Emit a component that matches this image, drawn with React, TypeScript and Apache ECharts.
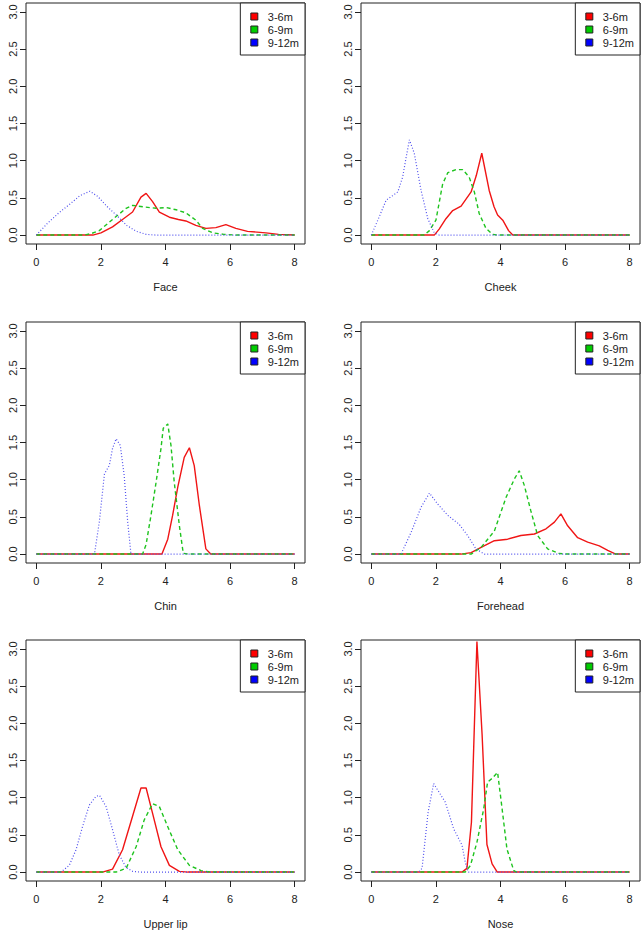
import React, { useEffect, useRef } from "react";
import * as echarts from "echarts";

const PANEL_NAMES = ["Face", "Cheek", "Chin", "Forehead", "Upper lip", "Nose"];
const GROUPS = ["3-6m", "6-9m", "9-12m"];
const X_TICKS = [0, 2, 4, 6, 8];
const Y_TICKS = [0, 0.5, 1, 1.5, 2, 2.5, 3];

// [x, density] pairs
const faceRed = [[0,0],[1.75,0],[2.0,0.03],[2.36,0.11],[2.7,0.22],[2.98,0.31],[3.24,0.51],[3.4,0.56],[3.6,0.45],[3.81,0.31],[4.12,0.24],[4.4,0.21],[4.63,0.19],[4.94,0.13],[5.25,0.09],[5.56,0.1],[5.87,0.14],[6.18,0.09],[6.54,0.05],[7.11,0.03],[7.5,0.01],[8,0]];
const faceGreen = [[0,0],[1.49,0],[1.7,0.02],[1.95,0.06],[2.36,0.21],[2.78,0.36],[2.98,0.4],[3.3,0.38],[3.71,0.36],[4.02,0.37],[4.33,0.34],[4.63,0.3],[4.94,0.2],[5.15,0.09],[5.46,0.03],[5.8,0.01],[6.2,0],[8,0]];
const faceBlue = [[0,0],[0.35,0.16],[0.7,0.3],[1.05,0.42],[1.35,0.53],[1.66,0.59],[1.9,0.52],[2.2,0.38],[2.5,0.26],[2.8,0.13],[3.1,0.05],[3.4,0.01],[3.7,0],[8,0]];

const cheekRed = [[0,0],[1.95,0],[2.1,0.08],[2.31,0.22],[2.52,0.33],[2.78,0.39],[3.09,0.58],[3.25,0.8],[3.42,1.1],[3.65,0.6],[3.8,0.38],[3.91,0.27],[4.07,0.2],[4.25,0.06],[4.38,0],[8,0]];
const cheekGreen = [[0,0],[1.64,0],[1.8,0.06],[2.0,0.2],[2.21,0.69],[2.37,0.84],[2.62,0.88],[2.83,0.88],[3.03,0.78],[3.19,0.58],[3.34,0.29],[3.55,0.09],[3.75,0.01],[3.9,0],[8,0]];
const cheekBlue = [[0,0],[0.2,0.2],[0.46,0.47],[0.66,0.53],[0.82,0.58],[0.97,0.78],[1.08,1.05],[1.18,1.28],[1.33,1.1],[1.54,0.6],[1.75,0.22],[1.95,0.03],[2.1,0],[8,0]];

const chinRed = [[0,0],[3.89,0],[4.07,0.2],[4.22,0.52],[4.38,0.9],[4.58,1.3],[4.74,1.43],[4.89,1.19],[5.05,0.65],[5.25,0.07],[5.4,0],[8,0]];
const chinGreen = [[0,0],[3.29,0],[3.4,0.13],[3.55,0.52],[3.71,0.97],[3.86,1.42],[3.93,1.69],[4.07,1.75],[4.17,1.46],[4.27,0.97],[4.43,0.38],[4.55,0.01],[4.7,0],[8,0]];
const chinBlue = [[0,0],[1.8,0],[1.95,0.43],[2.11,1.08],[2.26,1.19],[2.36,1.42],[2.47,1.55],[2.6,1.46],[2.72,1.06],[2.83,0.43],[2.93,0],[8,0]];

const foreheadRed = [[0,0],[2.78,0],[3.09,0.02],[3.4,0.09],[3.81,0.18],[4.22,0.2],[4.63,0.25],[5.05,0.27],[5.41,0.34],[5.67,0.43],[5.87,0.54],[6.08,0.38],[6.39,0.22],[6.7,0.16],[7.06,0.11],[7.32,0.05],[7.57,0],[8,0]];
const foreheadGreen = [[0,0],[3.09,0],[3.4,0.09],[3.81,0.31],[4.17,0.76],[4.43,1.01],[4.58,1.12],[4.74,0.92],[4.94,0.58],[5.15,0.25],[5.46,0.07],[5.8,0.01],[6.0,0],[8,0]];
const foreheadBlue = [[0,0],[0.92,0],[1.23,0.29],[1.54,0.63],[1.8,0.82],[2.06,0.67],[2.37,0.52],[2.72,0.4],[2.98,0.25],[3.24,0.07],[3.5,0],[8,0]];

const lipRed = [[0,0],[2.05,0],[2.36,0.04],[2.67,0.3],[2.98,0.75],[3.24,1.13],[3.4,1.13],[3.6,0.79],[3.86,0.34],[4.12,0.09],[4.43,0.01],[4.7,0],[8,0]];
const lipGreen = [[0,0],[2.47,0],[2.78,0.05],[3.09,0.34],[3.34,0.7],[3.6,0.92],[3.81,0.88],[4.07,0.61],[4.38,0.3],[4.74,0.09],[5.1,0.02],[5.4,0],[8,0]];
const lipBlue = [[0,0],[0.76,0],[1.02,0.09],[1.23,0.3],[1.43,0.61],[1.64,0.9],[1.85,1.02],[1.96,1.03],[2.16,0.88],[2.36,0.57],[2.57,0.23],[2.78,0.06],[2.98,0.01],[3.2,0],[8,0]];

const noseRed = [[0,0],[2.81,0],[2.96,0.05],[3.1,0.67],[3.27,3.1],[3.43,1.85],[3.58,0.37],[3.74,0.11],[3.9,0],[8,0]];
const noseGreen = [[0,0],[2.91,0],[3.07,0.09],[3.27,0.4],[3.48,0.85],[3.6,1.21],[3.74,1.26],[3.91,1.34],[4.05,0.85],[4.2,0.31],[4.41,0.02],[4.5,0],[8,0]];
const noseBlue = [[0,0],[1.47,0],[1.57,0.05],[1.76,0.81],[1.93,1.19],[2.03,1.12],[2.29,0.94],[2.55,0.58],[2.81,0.36],[2.91,0.13],[3.0,0],[8,0]];

const PANEL_SERIES = [
  [faceRed, faceGreen, faceBlue],
  [cheekRed, cheekGreen, cheekBlue],
  [chinRed, chinGreen, chinBlue],
  [foreheadRed, foreheadGreen, foreheadBlue],
  [lipRed, lipGreen, lipBlue],
  [noseRed, noseGreen, noseBlue],
];

const FONT = "'Liberation Sans', Arial, Helvetica, sans-serif";
const INK = "#222";
const SWATCH = ["#FF0000", "#00CD00", "#0000FF"];
const LINE_COLORS = ["#f01515", "#1ec31e", "#5050ee"];
const LINE_TYPES: any[] = ["solid", [4, 3], [1, 2]];
const LINE_WIDTHS = [1.4, 1.4, 1.2];

const COL_LEFT = [26, 361];
const ROW_TOP = [3, 322, 640];
const PW = 279;
const PH = 241;
const W = 644;

export default function App() {
  const ref = useRef<HTMLDivElement>(null);
  useEffect(() => {
    document.body.style.margin = "0";
    const chart = echarts.init(ref.current!, null, { renderer: "svg" });
    const grids: any[] = [];
    const xAxes: any[] = [];
    const yAxes: any[] = [];
    const legends: any[] = [];
    const series: any[] = [];
    PANEL_NAMES.forEach((name, i) => {
      const left = COL_LEFT[i % 2];
      const top = ROW_TOP[Math.floor(i / 2)];
      grids.push({
        left, top, width: PW, height: PH, show: true,
        borderColor: INK, borderWidth: 1, backgroundColor: "transparent",
      });
      xAxes.push({
        type: "value", gridIndex: i, min: -0.32, max: 8.32,
        axisLine: { show: false, onZero: false },
        splitLine: { show: false },
        axisTick: { show: true, length: 6, customValues: X_TICKS, lineStyle: { color: INK } },
        axisLabel: { customValues: X_TICKS, margin: 12, fontSize: 11, color: INK, fontFamily: FONT },
        name, nameLocation: "middle", nameGap: 37,
        nameTextStyle: { fontSize: 11, color: INK, fontFamily: FONT },
      });
      yAxes.push({
        type: "value", gridIndex: i, min: -0.12, max: 3.12,
        axisLine: { show: false, onZero: false },
        splitLine: { show: false },
        axisTick: { show: true, length: 6, customValues: Y_TICKS, lineStyle: { color: INK } },
        axisLabel: {
          customValues: Y_TICKS, rotate: 90, margin: 8, fontSize: 11, color: INK, fontFamily: FONT,
          formatter: (v: number) => v.toFixed(1),
        },
      });
      legends.push({
        data: GROUPS, orient: "vertical", right: W - (left + PW), top,
        icon: "rect", itemWidth: 7, itemHeight: 7, itemGap: 2,
        padding: [8, 6, 7, 10], borderColor: INK, borderWidth: 1, borderRadius: 0,
        backgroundColor: "#fff", selectedMode: false,
        itemStyle: { borderColor: INK, borderWidth: 1 },
        textStyle: { fontSize: 11, color: INK, fontFamily: FONT, padding: [0, 0, 0, 5] },
      });
      PANEL_SERIES[i].forEach((data, g) => {
        series.push({
          type: "line", name: GROUPS[g], xAxisIndex: i, yAxisIndex: i,
          data, symbol: "none", showSymbol: false, silent: true,
          itemStyle: { color: SWATCH[g] },
          lineStyle: { color: LINE_COLORS[g], width: LINE_WIDTHS[g], type: LINE_TYPES[g] },
          z: 2 + g,
        });
      });
    });
    chart.setOption({
      animation: false,
      backgroundColor: "#fff",
      grid: grids, xAxis: xAxes, yAxis: yAxes, legend: legends, series,
    });
    return () => chart.dispose();
  }, []);
  return <div ref={ref} style={{ position: "absolute", left: 0, top: 0, width: 644, height: 933 }} />;
}
